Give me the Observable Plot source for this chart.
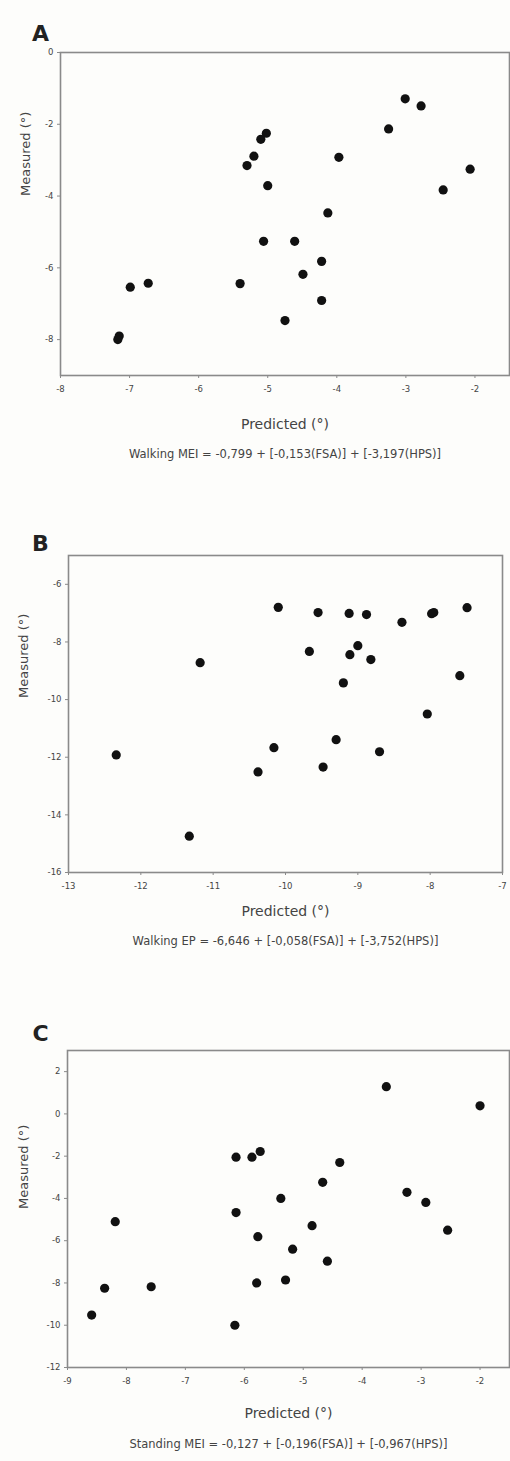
<!DOCTYPE html>
<html>
<head>
<meta charset="utf-8">
<script src="https://cdn.jsdelivr.net/npm/d3@7"></script>
<script src="https://cdn.jsdelivr.net/npm/@observablehq/plot@0.6"></script>
<style>
  html, body { margin: 0; padding: 0; background: #fdfdfb; }
  #wrap { position: relative; width: 510px; height: 1461px; overflow: hidden; background: #fdfdfb; }
  #wrap > div.panel { position: absolute; left: 0; }
  svg { overflow: visible; }
</style>
</head>
<body>
<div id="wrap"></div>
<script>
// Panel A: Walking MEI
const aPred = [-3.01, -2.78, -3.25, -5.02, -5.10, -5.20, -5.30, -3.97, -2.07, -2.46, -5.00, -4.13, -5.06, -4.61, -4.22, -4.49, -5.40, -6.99, -6.73, -4.22, -4.75, -7.15, -7.17];
const aMeas = [-1.29, -1.49, -2.13, -2.25, -2.42, -2.89, -3.15, -2.92, -3.25, -3.83, -3.71, -4.47, -5.26, -5.26, -5.82, -6.18, -6.44, -6.54, -6.43, -6.91, -7.47, -7.90, -8.00];
const aXTicks = [-8, -7, -6, -5, -4, -3, -2];
const aYTicks = [0, -2, -4, -6, -8];

// Panel B: Walking EP
const bPred = [-10.10, -9.55, -9.12, -8.88, -8.39, -7.95, -7.98, -7.49, -9.67, -9.11, -9.00, -8.82, -11.18, -9.20, -7.59, -8.04, -12.34, -10.16, -9.30, -8.70, -10.38, -9.48, -11.33];
const bMeas = [-6.80, -6.98, -7.01, -7.05, -7.32, -6.98, -7.02, -6.81, -8.33, -8.44, -8.13, -8.61, -8.72, -9.42, -9.17, -10.50, -11.92, -11.67, -11.39, -11.81, -12.51, -12.34, -14.74];
const bXTicks = [-13, -12, -11, -10, -9, -8, -7];
const bYTicks = [-6, -8, -10, -12, -14, -16];

// Panel C: Standing MEI
const cPred = [-3.59, -2.00, -6.14, -5.87, -5.73, -4.38, -4.67, -3.24, -2.92, -5.38, -6.14, -8.19, -2.55, -5.77, -4.85, -5.18, -4.59, -8.37, -7.58, -5.79, -5.30, -8.59, -6.16];
const cMeas = [1.29, 0.38, -2.05, -2.05, -1.78, -2.30, -3.24, -3.71, -4.19, -4.00, -4.67, -5.10, -5.50, -5.81, -5.29, -6.40, -6.97, -8.25, -8.18, -8.00, -7.86, -9.52, -10.00];
const cXTicks = [-9, -8, -7, -6, -5, -4, -3, -2];
const cYTicks = [2, 0, -2, -4, -6, -8, -10, -12];

const letters = ["A", "B", "C"];
const equations = [
  "Walking MEI = -0,799 + [-0,153(FSA)] + [-3,197(HPS)]",
  "Walking EP = -6,646 + [-0,058(FSA)] + [-3,752(HPS)]",
  "Standing MEI = -0,127 + [-0,196(FSA)] + [-0,967(HPS)]"
];
const xLabel = "Predicted (°)";
const yLabel = "Measured (°)";

const FONT = "DejaVu Sans, Liberation Sans, Arial, sans-serif";
const INK = "#444";
const FRAME = "#8a8a8a";

const panels = [
  {pred: aPred, meas: aMeas, xt: aXTicks, yt: aYTicks, xdom: [-8, -1.5], ydom: [-9, 0],
   top: 0, height: 470, mt: 52, ml: 60, mr: 1, mb: 95, letter: [-20, -27], ylab: [-35, -18], xlabDy: 53, eqDy: 82},
  {pred: bPred, meas: bMeas, xt: bXTicks, yt: bYTicks, xdom: [-13, -7], ydom: [-16, -5],
   top: 480, height: 480, mt: 75, ml: 68, mr: 8, mb: 88, letter: [-28, -20], ylab: [-45, -16], xlabDy: 43, eqDy: 72},
  {pred: cPred, meas: cMeas, xt: cXTicks, yt: cYTicks, xdom: [-9, -1.5], ydom: [-12, 3],
   top: 960, height: 501, mt: 90, ml: 67, mr: 1, mb: 94, letter: [-27, -25], ylab: [-44, 0], xlabDy: 50, eqDy: 80}
];

const wrap = document.getElementById("wrap");

panels.forEach((p, i) => {
  const data = p.pred.map((x, k) => ({x, y: p.meas[k]}));
  const chart = Plot.plot({
    width: 510,
    height: p.height,
    marginTop: p.mt,
    marginLeft: p.ml,
    marginRight: p.mr,
    marginBottom: p.mb,
    style: {background: "transparent", fontFamily: FONT, overflow: "visible"},
    x: {domain: p.xdom, ticks: p.xt},
    y: {domain: p.ydom, ticks: p.yt},
    marks: [
      Plot.frame({stroke: FRAME, strokeWidth: 1.6}),
      Plot.axisX({ticks: p.xt, tickSize: 3, tickPadding: 7, label: null, fontSize: 8.5, color: INK, stroke: FRAME, tickFormat: d => String(d)}),
      Plot.axisY({ticks: p.yt, tickSize: 3, tickPadding: 4, label: null, fontSize: 8.5, color: INK, stroke: FRAME, tickFormat: d => String(d)}),
      Plot.dot(data, {x: "x", y: "y", r: 4.6, fill: "#111", stroke: "none"}),
      Plot.text([letters[i]], {frameAnchor: "top-left", dx: p.letter[0], dy: p.letter[1], fontSize: 22, fontWeight: "bold", fill: "#222", textAnchor: "middle"}),
      Plot.text([yLabel], {frameAnchor: "left", dx: p.ylab[0], dy: p.ylab[1], rotate: -90, fontSize: 13, fill: INK}),
      Plot.text([xLabel], {frameAnchor: "bottom", dy: p.xlabDy, fontSize: 14, fill: INK}),
      Plot.text([equations[i]], {frameAnchor: "bottom", dy: p.eqDy, fontSize: 11.5, fill: INK})
    ]
  });
  const holder = document.createElement("div");
  holder.className = "panel";
  holder.style.top = p.top + "px";
  holder.appendChild(chart);
  wrap.appendChild(holder);
});
</script>
</body>
</html>
